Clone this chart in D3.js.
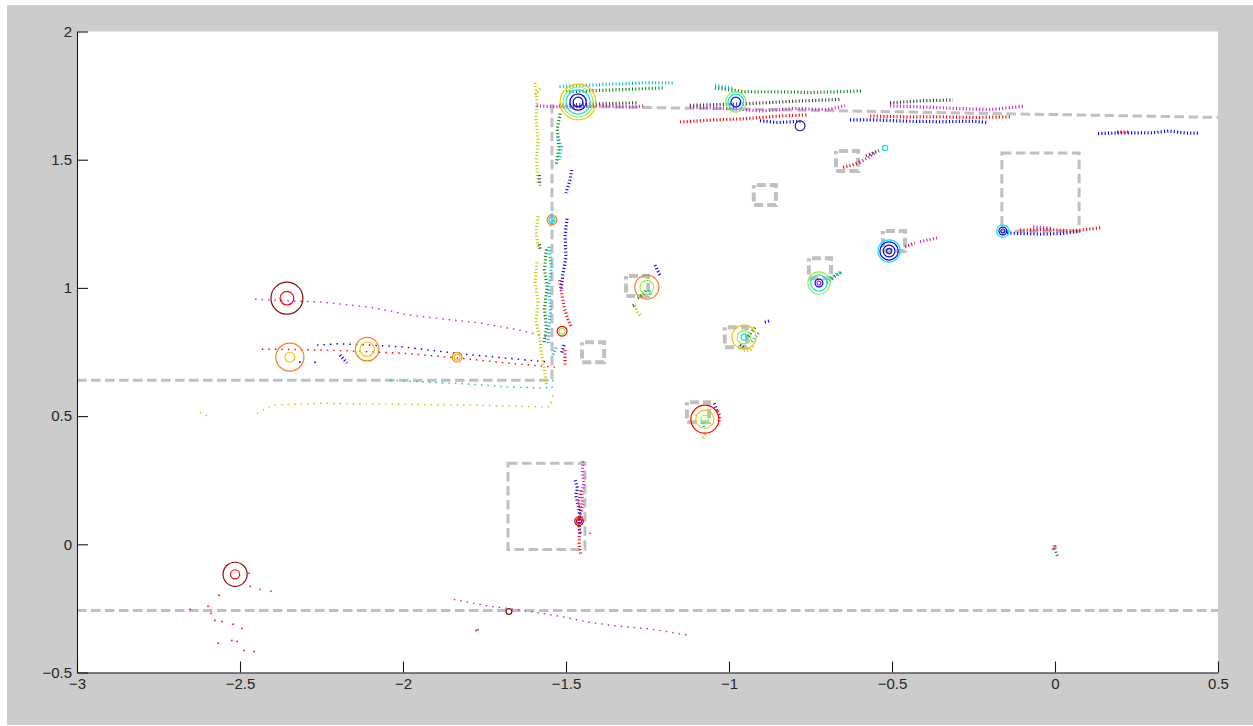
<!DOCTYPE html>
<html>
<head>
<meta charset="utf-8">
<script src="https://cdn.jsdelivr.net/npm/d3@7"></script>
<style>
  html, body { margin: 0; padding: 0; background: #ffffff; }
  svg { display: block; }
</style>
</head>
<body>
<script>
// ---------- axis ticks ----------
const xTicks = [-3, -2.5, -2, -1.5, -1, -0.5, 0, 0.5];
const yTicks = [-0.5, 0, 0.5, 1, 1.5, 2];

// ---------- map: walls (polylines) ----------
const walls = [
  [[-3, 0.640], [-1.543, 0.640], [-1.543, 1.710], [0.5, 1.665]],
  [[-3, -0.258], [0.5, -0.258]]
];

// ---------- map: zones [x0, y0, x1, y1] ----------
const zones = [
  [-1.678, -0.020, -1.442, 0.316],
  [-0.163, 1.222, 0.074, 1.526]
];

// ---------- map: landmark centres ----------
const landmarkX = [-1.417, -1.282, -0.979, -0.721, -1.095, -0.638, -0.494, -0.890];
const landmarkY = [0.749, 1.007, 0.808, 1.077, 0.515, 1.495, 1.183, 1.362];
const landmarkHalfW = 0.034, landmarkHalfH = 0.039;

// ---------- sparse scan tracks: [colour, points] ----------
const dottedTracks = [
  ["m", [[-2.454,0.956],[-2.40,0.952],[-2.255,0.945],[-2.101,0.925],[-1.979,0.894],[-1.85,0.875],[-1.764,0.863],[-1.641,0.835],[-1.555,0.808]]],
  ["b", [[-2.264,0.777],[-2.20,0.782],[-2.101,0.777],[-2.0,0.770],[-1.917,0.757],[-1.80,0.740],[-1.681,0.726],[-1.549,0.710]]],
  ["r", [[-2.433,0.761],[-2.35,0.760],[-2.224,0.757],[-2.009,0.746],[-1.825,0.726],[-1.672,0.706],[-1.534,0.691]]],
  ["c", [[-2.04,0.640],[-1.917,0.632],[-1.794,0.625],[-1.672,0.613],[-1.543,0.609],[-1.540,0.648]]],
  ["y", [[-2.448,0.511],[-2.42,0.530],[-2.393,0.543],[-2.255,0.550],[-2.009,0.546],[-1.794,0.543],[-1.549,0.535],[-1.540,0.582]]],
  ["y", [[-2.623,0.515],[-2.600,0.500]]],
  ["m", [[-1.844,-0.215],[-1.733,-0.242],[-1.678,-0.250],[-1.61,-0.262],[-1.518,-0.281],[-1.426,-0.305],[-1.334,-0.320],[-1.242,-0.330],[-1.120,-0.355]]]
];

// ---------- dense scan tracks: [colour, points] ----------
const denseTracks = [
  // wall segment near x = -1.55
  ["y", [[-1.595,1.80],[-1.589,1.733],[-1.592,1.66],[-1.586,1.58],[-1.590,1.50],[-1.586,1.41]]],
  ["y", [[-1.586,1.28],[-1.592,1.22],[-1.586,1.16]]],
  ["y", [[-1.589,1.10],[-1.595,1.02],[-1.586,0.95],[-1.592,0.87],[-1.580,0.80],[-1.575,0.74],[-1.566,0.68],[-1.560,0.62]]],
  ["k", [[-1.582,1.44],[-1.580,1.40]]],
  ["k", [[-1.582,1.17],[-1.579,1.15]]],
  ["g", [[-1.518,1.68],[-1.527,1.62],[-1.522,1.55],[-1.530,1.48]]],
  ["g", [[-1.560,1.15],[-1.566,1.07],[-1.558,1.00],[-1.566,0.92],[-1.560,0.84],[-1.568,0.78]]],
  ["c", [[-1.525,1.59],[-1.515,1.55],[-1.522,1.50]]],
  ["c", [[-1.552,1.16],[-1.545,1.08],[-1.553,1.00],[-1.547,0.92],[-1.552,0.85],[-1.555,0.78]]],
  ["c", [[-1.545,1.29],[-1.540,1.26],[-1.548,1.24]]],
  ["b", [[-1.482,1.46],[-1.488,1.42],[-1.500,1.37]]],
  ["b", [[-1.497,1.27],[-1.503,1.20],[-1.500,1.12],[-1.510,1.05],[-1.515,0.99]]],
  ["r", [[-1.520,1.03],[-1.512,0.97],[-1.505,0.92],[-1.495,0.88],[-1.485,0.85]]],
  ["b", [[-1.506,0.777],[-1.515,0.740]]],
  ["r", [[-1.503,0.757],[-1.503,0.700]]],
  ["c", [[-1.540,0.740],[-1.528,0.775]]],
  // top wall
  ["c", [[-1.52,1.785],[-1.45,1.79],[-1.35,1.795],[-1.25,1.80],[-1.172,1.80]]],
  ["g", [[-1.50,1.765],[-1.40,1.77],[-1.30,1.775],[-1.20,1.78]]],
  ["y", [[-1.595,1.755],[-1.575,1.78]]],
  ["m", [[-1.59,1.71],[-1.50,1.705],[-1.40,1.71],[-1.30,1.705],[-1.26,1.71]]],
  ["k", [[-1.52,1.712],[-1.40,1.718],[-1.28,1.722]]],
  ["m", [[-1.12,1.705],[-1.0,1.70],[-0.90,1.69],[-0.80,1.70],[-0.70,1.695],[-0.644,1.71]]],
  ["m", [[-0.506,1.71],[-0.40,1.705],[-0.30,1.70],[-0.20,1.695],[-0.098,1.708]]],
  ["k", [[-1.12,1.712],[-0.95,1.718],[-0.80,1.728],[-0.66,1.735]]],
  ["k", [[-0.506,1.722],[-0.40,1.73],[-0.313,1.733]]],
  ["r", [[-1.15,1.647],[-1.05,1.655],[-0.95,1.66],[-0.85,1.67],[-0.761,1.675]]],
  ["r", [[-0.567,1.67],[-0.45,1.667],[-0.35,1.667],[-0.25,1.665],[-0.138,1.667]]],
  ["b", [[-0.905,1.652],[-0.85,1.645],[-0.78,1.650]]],
  ["b", [[-0.629,1.655],[-0.55,1.655],[-0.45,1.650],[-0.35,1.648],[-0.25,1.650],[-0.209,1.645]]],
  ["b", [[0.132,1.602],[0.20,1.605],[0.30,1.605],[0.35,1.612],[0.40,1.604],[0.445,1.604]]],
  ["r", [[0.19,1.608],[0.23,1.608]]],
  ["g", [[-1.043,1.78],[-0.95,1.765],[-0.85,1.765],[-0.75,1.762],[-0.589,1.768]]],
  ["c", [[-1.043,1.79],[-0.99,1.78]]],
  // objects in the room
  ["r", [[-0.65,1.47],[-0.62,1.48],[-0.60,1.49]]],
  ["m", [[-0.60,1.49],[-0.57,1.51],[-0.55,1.53]]],
  ["k", [[-0.58,1.515],[-0.54,1.535]]],
  ["r", [[-0.46,1.16],[-0.43,1.175]]],
  ["m", [[-0.414,1.18],[-0.38,1.19],[-0.362,1.195]]],
  ["b", [[-0.147,1.214],[-0.05,1.21],[0.02,1.212],[0.077,1.22]]],
  ["r", [[-0.107,1.225],[-0.02,1.228],[0.05,1.222],[0.144,1.235]]],
  ["m", [[-0.067,1.238],[-0.006,1.232]]],
  ["b", [[-1.227,1.089],[-1.22,1.07],[-1.212,1.05]]],
  ["g", [[-1.28,0.96],[-1.265,0.975],[-1.255,0.99]]],
  ["c", [[-1.245,0.99],[-1.24,0.97]]],
  ["y", [[-1.29,0.93],[-1.28,0.905],[-1.27,0.89]]],
  ["k", [[-1.295,0.93],[-1.285,0.935]]],
  ["g", [[-0.94,0.81],[-0.93,0.83],[-0.92,0.845]]],
  ["c", [[-0.93,0.79],[-0.915,0.815],[-0.905,0.83]]],
  ["k", [[-0.965,0.78],[-0.955,0.77]]],
  ["y", [[-0.955,0.755],[-0.935,0.76],[-0.925,0.775]]],
  ["b", [[-0.89,0.866],[-0.875,0.872]]],
  ["g", [[-0.70,1.02],[-0.675,1.045],[-0.655,1.06]]],
  ["c", [[-0.69,1.04],[-0.66,1.06]]],
  ["b", [[-1.045,0.55],[-1.040,0.53],[-1.035,0.515]]],
  ["r", [[-1.035,0.52],[-1.028,0.50],[-1.030,0.48]]],
  ["c", [[-1.078,0.475],[-1.076,0.45]]],
  ["y", [[-1.080,0.414],[-1.070,0.43]]],
  // zone near the door
  ["m", [[-1.448,0.324],[-1.450,0.28],[-1.445,0.24],[-1.452,0.20],[-1.448,0.16],[-1.455,0.12],[-1.450,0.09]]],
  ["b", [[-1.472,0.25],[-1.465,0.22],[-1.470,0.19],[-1.462,0.15],[-1.458,0.11],[-1.460,0.07],[-1.455,0.035]]],
  ["r", [[-1.455,0.21],[-1.460,0.17],[-1.455,0.13],[-1.462,0.09],[-1.458,0.05],[-1.460,0.0],[-1.455,-0.04]]],
  // start pose
  ["g", [[-0.003,-0.004],[0.003,-0.03],[0.008,-0.047]]],
  ["r", [[-0.006,-0.016],[-0.003,-0.025]]],
  ["m", [[0.0,-0.008],[0.002,-0.015]]],
  ["b", [[-2.193,0.738],[-2.172,0.707]]]
];

// ---------- single returns: [colour, x, y] ----------
const returns = [
  ["r",-2.653,-0.254],["r",-2.598,-0.242],["r",-2.589,-0.269],["r",-2.577,-0.297],["r",-2.555,-0.301],
  ["r",-2.521,-0.312],["r",-2.494,-0.328],["r",-2.567,-0.386],["r",-2.525,-0.375],["r",-2.509,-0.379],
  ["r",-2.488,-0.414],["r",-2.457,-0.418],["r",-2.564,-0.199],
  ["m",-2.472,-0.113],["m",-2.469,-0.164],["m",-2.439,-0.176],["m",-2.405,-0.183],
  ["b",-2.316,0.710],["b",-2.270,0.710],["m",-1.426,0.043],["r",-1.776,-0.336],["r",-1.770,-0.333]
];

// ---------- landmark estimates: [x, y, radius, colour] ----------
const rings = [
  [-2.356,0.960,0.049,"dr"],[-2.356,0.960,0.021,"r"],
  [-2.347,0.730,0.043,"o"],[-2.347,0.730,0.015,"y"],
  [-2.110,0.761,0.036,"o"],[-2.110,0.761,0.022,"y"],
  [-1.834,0.730,0.015,"o"],[-1.834,0.730,0.009,"y"],
  [-1.512,0.831,0.015,"r"],[-1.512,0.831,0.009,"l"],
  [-1.543,1.265,0.015,"o"],[-1.543,1.265,0.009,"c"],
  [-1.463,1.725,0.055,"y"],[-1.463,1.725,0.046,"l"],[-1.463,1.725,0.037,"c"],[-1.463,1.725,0.025,"b"],[-1.463,1.725,0.015,"b"],
  [-0.979,1.725,0.031,"l"],[-0.979,1.725,0.024,"c"],[-0.979,1.725,0.015,"b"],
  [-0.782,1.632,0.015,"nb"],
  [-0.521,1.546,0.008,"c"],
  [-0.160,1.222,0.019,"c"],[-0.160,1.222,0.012,"b"],[-0.160,1.222,0.006,"nb"],
  [-0.509,1.144,0.034,"c"],[-0.509,1.144,0.028,"b"],[-0.509,1.144,0.018,"b"],[-0.509,1.144,0.008,"nb"],
  [-0.724,1.019,0.034,"l"],[-0.724,1.019,0.025,"c"],[-0.724,1.019,0.012,"b"],[-0.724,1.019,0.006,"m"],
  [-1.252,1.003,0.037,"o"],[-1.252,1.003,0.021,"l"],
  [-0.954,0.808,0.037,"y"],[-0.954,0.808,0.021,"l"],[-0.954,0.808,0.009,"c"],
  [-1.074,0.488,0.043,"r"],[-1.074,0.488,0.028,"y"],[-1.074,0.488,0.012,"l"],
  [-1.460,0.090,0.013,"dr"],[-1.460,0.090,0.008,"r"],
  [-2.515,-0.117,0.037,"dr"],[-2.515,-0.117,0.014,"r"],
  [-1.675,-0.262,0.009,"dr"]
];

// ---------- colours ----------
const palette = {
  m: "#cc22cc", b: "#0000ff", r: "#ff0000", c: "#00c0c8", y: "#c8c800",
  g: "#108a10", k: "#404040", dr: "#8b1010", o: "#ff7a20", l: "#98f040",
  nb: "#202090"
};
const ringPalette = Object.assign({}, palette, { y: "#f2c400", c: "#10e0f0" });

// ---------- layout ----------
const W = 1253, H = 726;
const plot = { left: 77, top: 31.5, right: 1218, bottom: 672.5 };

const svg = d3.select("body").append("svg").attr("width", W).attr("height", H);

// figure background
svg.append("rect").attr("x", 7).attr("y", 5).attr("width", W - 7).attr("height", H - 6)
  .attr("fill", "#cccccc");
svg.append("rect")
  .attr("x", plot.left).attr("y", plot.top)
  .attr("width", plot.right - plot.left).attr("height", plot.bottom - plot.top)
  .attr("fill", "#ffffff");

const x = d3.scaleLinear().domain([-3, 0.5]).range([plot.left, plot.right]);
const y = d3.scaleLinear().domain([-0.5, 2]).range([plot.bottom, plot.top]);

svg.append("clipPath").attr("id", "plotclip").append("rect")
  .attr("x", plot.left).attr("y", plot.top)
  .attr("width", plot.right - plot.left).attr("height", plot.bottom - plot.top);

const g = svg.append("g").attr("clip-path", "url(#plotclip)");

const line = d3.line().x(d => x(d[0])).y(d => y(d[1]));
const dash = "9.5,4.5";
const mapGray = "#c0c0c0";

// walls
g.selectAll("path.wall").data(walls).join("path")
  .attr("class", "wall").attr("d", line)
  .attr("fill", "none").attr("stroke", mapGray).attr("stroke-width", 3)
  .attr("stroke-dasharray", dash);

// zones
g.selectAll("rect.zone").data(zones).join("rect")
  .attr("class", "zone")
  .attr("x", d => x(d[0])).attr("y", d => y(d[3]))
  .attr("width", d => x(d[2]) - x(d[0])).attr("height", d => y(d[1]) - y(d[3]))
  .attr("fill", "none").attr("stroke", mapGray).attr("stroke-width", 3)
  .attr("stroke-dasharray", dash);

// landmarks
g.selectAll("rect.lm").data(d3.range(landmarkX.length)).join("rect")
  .attr("class", "lm")
  .attr("x", i => x(landmarkX[i] - landmarkHalfW))
  .attr("y", i => y(landmarkY[i] + landmarkHalfH))
  .attr("width", i => x(landmarkX[i] + landmarkHalfW) - x(landmarkX[i] - landmarkHalfW))
  .attr("height", i => y(landmarkY[i] - landmarkHalfH) - y(landmarkY[i] + landmarkHalfH))
  .attr("fill", "none").attr("stroke", mapGray).attr("stroke-width", 4)
  .attr("stroke-dasharray", "9,4").attr("stroke-dashoffset", -3);

// sparse tracks
g.selectAll("path.dot").data(dottedTracks).join("path")
  .attr("class", "dot").attr("d", d => line(d[1]))
  .attr("fill", "none").attr("stroke", d => palette[d[0]])
  .attr("stroke-width", 1.4).attr("stroke-dasharray", "1.5,5");

// dense tracks: short cross-hatched returns
g.selectAll("path.dense").data(denseTracks).join("path")
  .attr("class", "dense").attr("d", d => line(d[1]))
  .attr("fill", "none").attr("stroke", d => palette[d[0]])
  .attr("stroke-width", 3.2).attr("stroke-dasharray", "1.1,2.2");

// single returns
g.selectAll("rect.ret").data(returns).join("rect")
  .attr("class", "ret")
  .attr("x", d => x(d[1]) - 0.8).attr("y", d => y(d[2]) - 0.8)
  .attr("width", 1.6).attr("height", 1.6)
  .attr("fill", d => palette[d[0]]);

// estimate rings (radius in x-units)
const rpx = r => x(r) - x(0);
g.selectAll("circle.ring").data(rings).join("circle")
  .attr("class", "ring")
  .attr("cx", d => x(d[0])).attr("cy", d => y(d[1])).attr("r", d => rpx(d[2]))
  .attr("fill", "none").attr("stroke", d => ringPalette[d[3]]).attr("stroke-width", 1.2);

// axes
const font = "'Liberation Sans', Arial, sans-serif";
const xAxis = d3.axisBottom(x).tickValues(xTicks).tickSizeInner(-11).tickSizeOuter(0)
  .tickPadding(6).tickFormat(d3.format("~g"));
const yAxis = d3.axisLeft(y).tickValues(yTicks).tickSizeInner(-11).tickSizeOuter(0)
  .tickPadding(5).tickFormat(d3.format("~g"));

const gx = svg.append("g").attr("transform", `translate(0,${plot.bottom})`).call(xAxis);
const gy = svg.append("g").attr("transform", `translate(${plot.left},0)`).call(yAxis);
[gx, gy].forEach(a => {
  a.select(".domain").attr("stroke", "#1a1a1a").attr("stroke-width", 1.1);
  a.selectAll(".tick line").attr("stroke", "#1a1a1a").attr("stroke-width", 1.1);
  a.selectAll(".tick text").attr("fill", "#262626")
    .style("font-family", font).style("font-size", "15px");
});
</script>
</body>
</html>
